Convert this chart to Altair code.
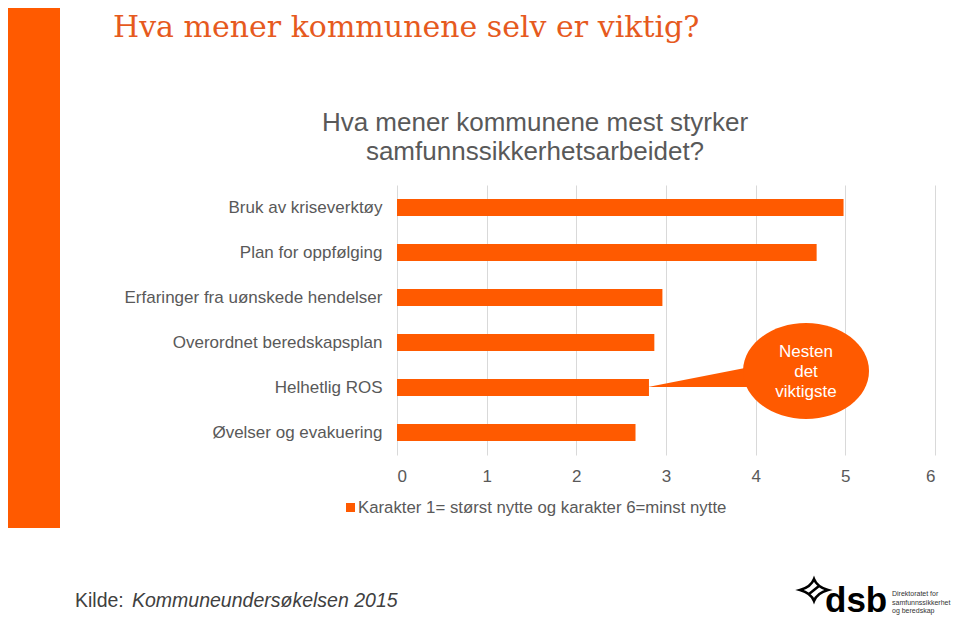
import altair as alt
import pandas as pd

# ---- data ----
categories = [
    "Bruk av kriseverktøy",
    "Plan for oppfølging",
    "Erfaringer fra uønskede hendelser",
    "Overordnet beredskapsplan",
    "Helhetlig ROS",
    "Øvelser og evakuering",
]
values = [4.98, 4.68, 2.96, 2.87, 2.81, 2.66]
x_ticks = [0, 1, 2, 3, 4, 5, 6]

title_text = "Hva mener kommunene selv er viktig?"
subtitle_lines = ["Hva mener kommunene mest styrker", "samfunnssikkerhetsarbeidet?"]
legend_label = "Karakter 1= størst nytte og karakter 6=minst nytte"
callout_lines = ["Nesten", "det", "viktigste"]
source_prefix = "Kilde:"
source_italic = "Kommuneundersøkelsen 2015"
logo_word = "dsb"
logo_lines = ["Direktoratet for", "samfunnssikkerhet", "og beredskap"]

df = pd.DataFrame({"category": categories, "value": values})
one = pd.DataFrame({"k": [0]})

# ---- layout (page pixel coordinates of plot origin) ----
OX, OY = 397, 185
W, H = 538, 270
ORANGE = "#FF5A00"
TITLE_ORANGE = "#E65A1E"
GREY = "#595959"


def X(p):
    return alt.value(p - OX)


def Y(p):
    return alt.value(p - OY)


def txt(s, xp, yp, **kw):
    return alt.Chart(one).mark_text(text=s, **kw).encode(x=X(xp), y=Y(yp))


bars = alt.Chart(df).mark_bar(size=17, color=ORANGE).encode(
    x=alt.X(
        "value:Q",
        scale=alt.Scale(domain=[0, 6], nice=False, zero=True),
        axis=alt.Axis(
            values=x_ticks, title=None, grid=True, gridColor="#D9D9D9", gridWidth=1,
            ticks=False, domain=False, labelFontSize=17, labelColor=GREY,
            labelPadding=13, labelFont="Liberation Sans",
        ),
    ),
    y=alt.Y(
        "category:N",
        sort=categories,
        scale=alt.Scale(paddingInner=0, paddingOuter=0),
        axis=alt.Axis(
            title=None, ticks=False, domain=False, labelFontSize=17, labelColor=GREY,
            labelPadding=15, labelLimit=500, labelFont="Liberation Sans",
        ),
    ),
)

left_band = alt.Chart(one).mark_rect(color=ORANGE).encode(
    x=X(0), x2=X(60), y=Y(0), y2=Y(528)
)

layers = [left_band, bars]

# title
layers.append(txt(title_text, 113, 37, font="DejaVu Serif", fontSize=30,
                  color=TITLE_ORANGE, align="left", baseline="alphabetic"))
# subtitle
for i, line in enumerate(subtitle_lines):
    layers.append(txt(line, 535, 123 + i * 29, font="Liberation Sans", fontSize=26,
                      color=GREY, align="center", baseline="middle"))

# callout tail + ellipse
tail = alt.Chart(one).mark_point(
    shape="M 0 0 L 97 -19 L 102 0 Z", filled=True, fill=ORANGE, opacity=1,
    strokeWidth=0, size=4,
).encode(x=X(648), y=Y(387))
ellipse = alt.Chart(one).mark_point(
    shape="M -63 0 A 63 48 0 1 0 63 0 A 63 48 0 1 0 -63 0 Z", filled=True,
    fill=ORANGE, opacity=1, strokeWidth=0, size=4,
).encode(x=X(806), y=Y(371))
layers += [tail, ellipse]
for i, line in enumerate(callout_lines):
    layers.append(txt(line, 806, 352 + i * 20, font="Liberation Sans", fontSize=17,
                      color="white", align="center", baseline="middle"))

# legend
layers.append(alt.Chart(one).mark_rect(color=ORANGE).encode(
    x=X(346), x2=X(355), y=Y(503), y2=Y(512)))
layers.append(txt(legend_label, 358, 508, font="Liberation Sans", fontSize=16.8,
                  color=GREY, align="left", baseline="middle"))

# source
layers.append(txt(source_prefix, 75, 601, font="Liberation Sans", fontSize=19.5,
                  color="#404040", align="left", baseline="middle"))
layers.append(txt(source_italic, 132, 601, font="Liberation Sans", fontSize=19.5,
                  fontStyle="italic", color="#404040", align="left", baseline="middle"))

# logo
star = alt.Chart(one).mark_point(
    shape="M 0 -11 Q 3 -3 14 0 Q 3 3 0 11 Q -3 3 -14 0 Q -3 -3 0 -11 Z M -5 4 L 5 -4",
    filled=False, stroke="black", strokeWidth=2.5, opacity=1, size=4,
).encode(x=X(814), y=Y(590))
layers.append(star)
layers.append(txt(logo_word, 825, 612, font="Liberation Sans", fontSize=35,
                  fontWeight="bold", color="black", align="left", baseline="alphabetic"))
for i, line in enumerate(logo_lines):
    layers.append(txt(line, 892, 594 + i * 8.5, font="Liberation Sans", fontSize=7,
                      color="#333333", align="left", baseline="middle"))

chart = alt.layer(*layers).properties(
    width=W,
    height=H,
    autosize=alt.AutoSizeParams(type="none"),
    padding={"left": OX - 8, "top": OY - 8, "right": 960 - 8 - (OX + W), "bottom": 165},
    background="white",
).configure_view(stroke=None)

chart.save("out.html", embed_options={"renderer": "svg", "actions": False})
